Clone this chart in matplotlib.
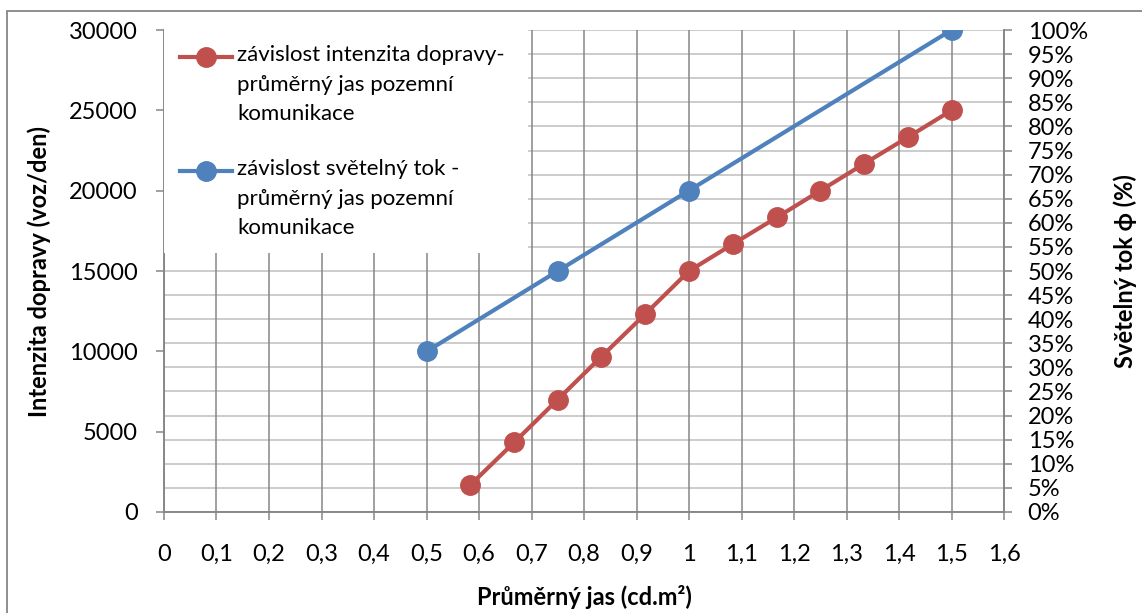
import matplotlib
matplotlib.use("Agg")
import matplotlib.pyplot as plt
from matplotlib.lines import Line2D
from matplotlib.patches import Rectangle
from matplotlib.ticker import FuncFormatter, MultipleLocator

plt.rcParams['font.family'] = ['Lato', 'DejaVu Sans']
plt.rcParams['font.size'] = 17

# intenzita dopravy vs. průměrný jas (levá osa)
jas_doprava = [0.583, 0.667, 0.75, 0.833, 0.917, 1.0, 1.083, 1.167, 1.25, 1.333, 1.417, 1.5]
intenzita = [1667, 4333, 7000, 9667, 12333, 15000, 16667, 18333, 20000, 21667, 23333, 25000]

# světelný tok vs. průměrný jas (pravá osa, %)
jas_tok = [0.5, 0.75, 1.0, 1.5]
svetelny_tok = [33.3, 50.0, 66.7, 100.0]

popisky = ['závislost intenzita dopravy-\nprůměrný jas pozemní\nkomunikace',
           'závislost světelný tok -\nprůměrný jas pozemní\nkomunikace']
barvy = ['#C0504D', '#4F81BD']

SEDA = '#868686'
SVETLA = '#bfbfbf'

fig = plt.figure(figsize=(11.42, 6.13), dpi=100)
ax = fig.add_axes([0.1436, 0.1648, 0.7356, 0.7862])
ax2 = ax.twinx()
# levá osa se kreslí nad pravou, aby čáry ležely nad mřížkou
ax.set_zorder(ax2.get_zorder() + 1)
ax.patch.set_visible(False)

ax.set_xlim(0, 1.6)
ax.set_ylim(0, 30000)
ax2.set_ylim(0, 100)

ax.xaxis.set_major_locator(MultipleLocator(0.1))
ax.yaxis.set_major_locator(MultipleLocator(5000))
ax2.yaxis.set_major_locator(MultipleLocator(5))
ax.xaxis.set_major_formatter(FuncFormatter(lambda v, p: f"{round(v, 1):g}".replace('.', ',')))
ax2.yaxis.set_major_formatter(FuncFormatter(lambda v, p: f"{v:.0f}%"))

ax.grid(axis='x', color=SEDA, linewidth=1.1)
ax.grid(axis='y', visible=False)
ax2.grid(axis='y', color=SVETLA, linewidth=1.1)
ax.set_axisbelow(True)
ax2.set_axisbelow(True)

for a in (ax, ax2):
    for s in a.spines.values():
        s.set_color(SEDA)
        s.set_linewidth(1.1)
    a.spines['top'].set_visible(False)
ax.tick_params(axis='x', length=6, width=1.1, color=SEDA, pad=17)
ax.tick_params(axis='y', length=6, width=1.1, color=SEDA, pad=13)
ax2.tick_params(axis='y', length=6, width=1.1, color=SEDA, pad=11)

ax.plot(jas_doprava, intenzita, color=barvy[0], linewidth=3, marker='o',
        markersize=14, zorder=3)
ax.plot(jas_tok, svetelny_tok, color=barvy[1], linewidth=3, marker='o',
        markersize=14, zorder=3, transform=ax2.transData)

# legenda na bílém podkladu v levém horním rohu
ax.add_patch(Rectangle((0, 0.538), 0.433, 0.47, transform=ax.transAxes,
                       facecolor='white', edgecolor='none', zorder=4, clip_on=False))
for i, (txt, c) in enumerate(zip(popisky, barvy)):
    yy = 0.944 - i * 0.2365
    ax.add_line(Line2D([0.019, 0.081], [yy, yy], transform=ax.transAxes,
                       color=c, linewidth=3, zorder=5))
    ax.add_line(Line2D([0.05], [yy], transform=ax.transAxes, color=c,
                       marker='o', markersize=14, zorder=5))
    ax.text(0.087, yy + 0.025, txt, transform=ax.transAxes, ha='left', va='top',
            fontsize=16, linespacing=1.6, zorder=6)

ax.set_xlabel('Průměrný jas (cd.m²)', fontweight='bold', va='center')
ax.xaxis.set_label_coords(0.5, -0.176)
ax.set_ylabel('Intenzita dopravy (voz/den)', fontweight='bold', va='center')
ax.yaxis.set_label_coords(-0.148, 0.5)
ax2.set_ylabel('Světelný tok ϕ (%)', fontweight='bold', va='center')
ax2.yaxis.set_label_coords(1.144, 0.5)

# rámeček grafu
fig.patches.append(Rectangle((7 / 1142, -0.1), 1.2, 1.0 - 11 / 613 + 0.1,
                             transform=fig.transFigure, fill=False,
                             edgecolor=SEDA, linewidth=1.3))

fig.savefig('out.png', dpi=100)
